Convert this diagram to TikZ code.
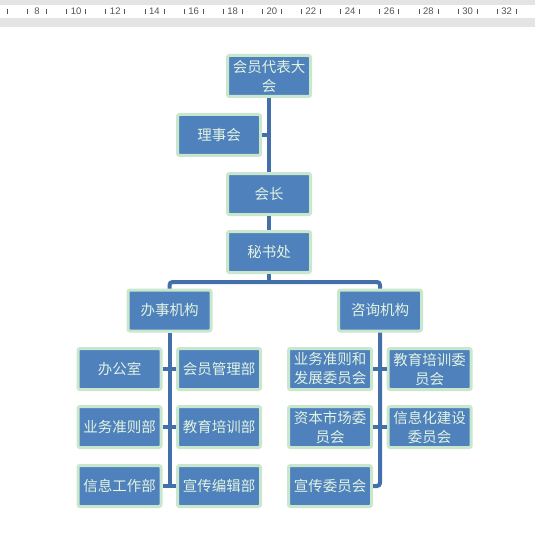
\documentclass[tikz,border=0pt]{standalone}
\usepackage{fontspec}
\setmainfont{Liberation Sans}
\newfontfamily\cjk{Noto Sans CJK SC}
\definecolor{boxfill}{HTML}{4F81BD}
\definecolor{boxedge}{HTML}{C9E7CD}
\definecolor{boxtext}{HTML}{E2F3E0}
\definecolor{linecol}{HTML}{4370AB}
\definecolor{rulergray}{HTML}{E4E4E4}
\definecolor{rulertext}{HTML}{555555}
\begin{document}
\begin{tikzpicture}[x=1pt,y=-1pt,
  box/.style={draw=boxedge, line width=3pt, fill=boxfill, rounded corners=2pt,
    minimum width=83pt, minimum height=41pt, inner sep=0pt, align=center,
    text=boxtext, font=\cjk\fontsize{14.5}{19}\selectfont},
  conn/.style={draw=linecol, line width=4pt},
  rulernum/.style={text=rulertext, font=\fontsize{9.5}{10}\selectfont, inner sep=0pt},
  rulertick/.style={draw=rulertext, line width=0.8pt}]
\useasboundingbox (0,0) rectangle (535,540);
\clip (0,0) rectangle (535,540);
\fill[white] (0,0) rectangle (535,540);
% ruler
\fill[rulergray] (0,0) rectangle (535,5);
\fill[rulergray] (0,18) rectangle (535,27);
\foreach \n in {6,8,...,32} {
  \pgfmathsetmacro\xx{37+(\n-8)*19.57}
  \node[rulernum] (rn\n) at (\xx,11.5) {\n};
  \draw[rulertick] (\xx-9.5,9) -- (\xx-9.5,14);
  \draw[rulertick] (\xx+9.5,9) -- (\xx+9.5,14);
}
% boxes
\node[box] (hy) at (269,76) {会员代表大\\会};
\node[box] (lsh) at (219,135) {理事会};
\node[box] (hz) at (269,194) {会长};
\node[box] (msc) at (269,252) {秘书处};
\node[box] (bs) at (169.5,310.5) {办事机构};
\node[box] (zx) at (380,310.5) {咨询机构};
\node[box] (b1) at (119.5,369) {办公室};
\node[box] (b2) at (219,369) {会员管理部};
\node[box] (b3) at (119.5,427) {业务准则部};
\node[box] (b4) at (219,427) {教育培训部};
\node[box] (b5) at (119.5,486) {信息工作部};
\node[box] (b6) at (219,486) {宣传编辑部};
\node[box] (c1) at (330,369) {业务准则和\\发展委员会};
\node[box] (c2) at (429.7,369) {教育培训委\\员会};
\node[box] (c3) at (330,427) {资本市场委\\员会};
\node[box] (c4) at (429.7,427) {信息化建设\\委员会};
\node[box] (c5) at (330,486) {宣传委员会};
% connectors
\coordinate (hbar) at (269,282);
\draw[conn] (hy.south) -- (hz.north);
\draw[conn] (lsh.east) -- (lsh.east -| hy.south);
\draw[conn] (hz.south) -- (msc.north);
\draw[conn] (msc.south) -- (hbar);
\draw[conn, rounded corners=3pt] (bs.north) |- (hbar) -| (zx.north);
\draw[conn] (bs.south) -- (bs.south |- b5.east);
\draw[conn] (b1.east) -- (b2.west);
\draw[conn] (b3.east) -- (b4.west);
\draw[conn] (b5.east) -- (b6.west);
\draw[conn, rounded corners=3pt] (zx.south) |- (c5.east);
\draw[conn] (c1.east) -- (c2.west);
\draw[conn] (c3.east) -- (c4.west);
\end{tikzpicture}
\end{document}
